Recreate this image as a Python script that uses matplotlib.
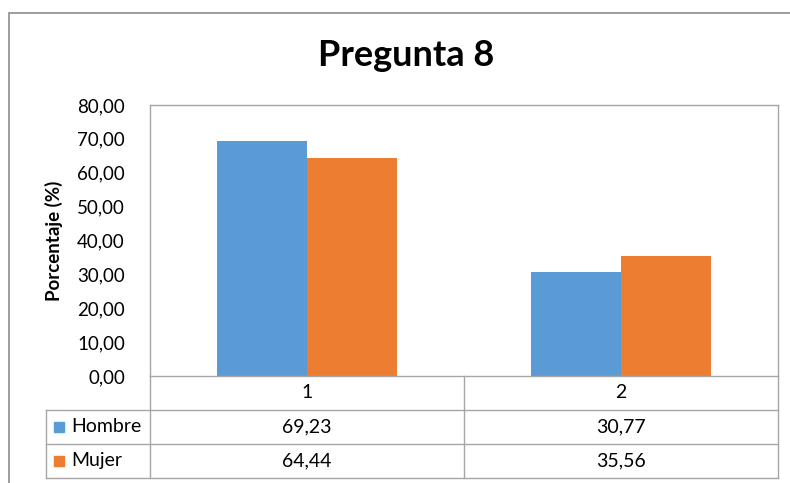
import matplotlib.pyplot as plt
import matplotlib.ticker as mticker
from matplotlib.patches import Rectangle
import numpy as np

plt.rcParams['font.family'] = ['Lato', 'DejaVu Sans']

categories = ['1', '2']
series = ['Hombre', 'Mujer']
hombre = [69.23, 30.77]
mujer = [64.44, 35.56]
values = [hombre, mujer]

COLORS = ['#5B9BD5', '#ED7D31']
GRID = '#A6A6A6'

W, H = 790, 483
fig = plt.figure(figsize=(W / 100, H / 100), dpi=100)

# outer chart border (runs off the right and bottom edges)
fig.patches.append(Rectangle((9 / W, -0.05), 1.2, 1 - 13 / H + 0.05,
                             transform=fig.transFigure, fill=False,
                             edgecolor='#8C8C8C', linewidth=1.2))

left, right, top, bottom = 150, 778, 105, 376
ax = fig.add_axes([left / W, 1 - bottom / H, (right - left) / W, (bottom - top) / H])

x = np.arange(len(categories))
bw = 1 / 3.5
for i, (name, vals) in enumerate(zip(series, values)):
    ax.bar(x + (i - 0.5) * bw, vals, width=bw, color=COLORS[i], label=name, zorder=2)

ax.set_xlim(-0.5, 1.5)
ax.set_ylim(0, 80)
ax.yaxis.set_major_locator(mticker.MultipleLocator(10))
ax.yaxis.set_major_formatter(mticker.FuncFormatter(lambda v, p: f'{v:.2f}'.replace('.', ',')))
ax.tick_params(axis='y', length=0, labelsize=13.5, pad=18, colors='#000000')
ax.set_xticks([])
for s in ax.spines.values():
    s.set_color(GRID)
    s.set_linewidth(1)
ax.set_ylabel('Porcentaje (%)', fontsize=13.5, fontweight='bold', labelpad=10)

fig.text(406 / W, 1 - 55 / H, 'Pregunta 8', fontsize=26, fontweight='bold',
         ha='center', va='center')

# data table under the plot
row_h = 34 / (bottom - top)
first_col = (46 - left) / (right - left)
tr = ax.transAxes
kw = dict(transform=tr, clip_on=False, color=GRID, linewidth=1)
for k in range(1, 4):
    y = -k * row_h
    ax.plot([first_col, 1], [y, y], **kw)
ax.plot([first_col, first_col], [-row_h, -3 * row_h], **kw)
for xb in [0, 0.5, 1]:
    ax.plot([xb, xb], [0, -3 * row_h], **kw)

for j, cat in enumerate(categories):
    ax.text((j + 0.5) / 2, -0.5 * row_h, cat, transform=tr, ha='center', va='center', fontsize=14)
for i, (name, vals) in enumerate(zip(series, values)):
    yc = -(i + 1.5) * row_h
    ax.add_patch(Rectangle((first_col + 8 / 628, yc - 5 / 271), 10 / 628, 10 / 271,
                           transform=tr, clip_on=False, color=COLORS[i]))
    ax.text(first_col + 25 / 628, yc, name, transform=tr, ha='left', va='center', fontsize=14)
    for j, v in enumerate(vals):
        ax.text((j + 0.5) / 2, yc, f'{v:.2f}'.replace('.', ','), transform=tr,
                ha='center', va='center', fontsize=14)

fig.savefig('out.png', dpi=100)
